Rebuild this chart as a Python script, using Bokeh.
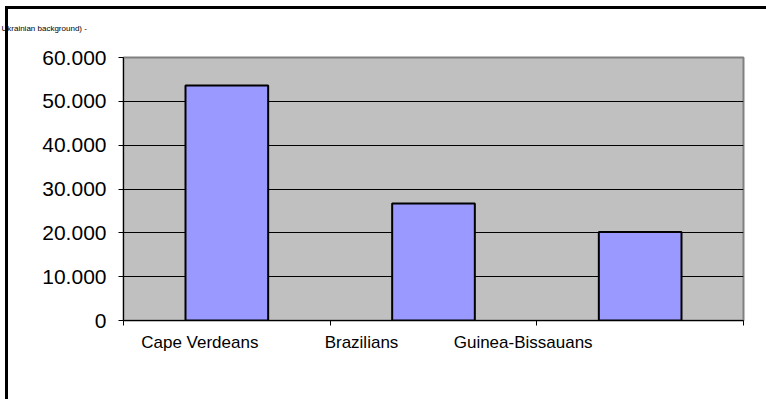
import numpy as np
from bokeh.plotting import figure
from bokeh.models import Range1d, FixedTicker, ColumnDataSource, InlineStyleSheet
from bokeh.embed import file_html
from bokeh.resources import INLINE

# ---- data ----
categories = ["Cape Verdeans", "Brazilians", "Guinea-Bissauans"]
values = [53600, 26700, 20200]
y_ticks = [0, 10000, 20000, 30000, 40000, 50000, 60000]
y_tick_labels = ["0", "10.000", "20.000", "30.000", "40.000", "50.000", "60.000"]
caption_fragment = "Ukrainian background) -"

# ---- layout (pixels, figure coordinates) ----
W, H = 766, 399
FL, FR, FT, FB = 123, 23, 57, 79
FRAME_W = W - FL - FR
label_shift_px = [-27, -72, -117]   # category labels sit left of the bars in the reference
FONT = "Liberation Sans"

n = len(categories)
ymax = y_ticks[-1]

border_css = InlineStyleSheet(css=(
    ":host { background: "
    "linear-gradient(black, black) 5px 6px / 3px 100% no-repeat fixed, "
    "linear-gradient(black, black) 5px 6px / 100% 3px no-repeat fixed, white; }"))

p = figure(width=W, height=H, output_backend="svg", toolbar_location=None,
           x_range=Range1d(0, n), y_range=Range1d(0, ymax),
           min_border_left=FL, min_border_right=FR, min_border_top=FT, min_border_bottom=FB,
           background_fill_color="#C0C0C0", border_fill_color=None,
           stylesheets=[border_css])
p.outline_line_color = "#808080"
p.outline_line_width = 2

src = ColumnDataSource(dict(x=np.arange(n) + 0.5, top=values, name=categories))
p.vbar(x="x", top="top", width=0.4, source=src, fill_color="#9999FF",
       line_color="black", line_width=2)

# y axis
p.yaxis.ticker = FixedTicker(ticks=y_ticks)
p.yaxis.major_label_overrides = {t: s for t, s in zip(y_ticks, y_tick_labels)}
p.yaxis.major_label_text_font = FONT
p.yaxis.major_label_text_font_size = "21px"
p.yaxis.major_label_text_color = "black"
p.yaxis.major_tick_in = 0
p.yaxis.major_tick_out = 5
p.yaxis.minor_tick_line_color = None
p.yaxis.axis_line_color = "black"
p.yaxis.major_label_standoff = 12

p.ygrid.ticker = FixedTicker(ticks=y_ticks)
p.ygrid.grid_line_color = "black"
p.ygrid.grid_line_width = 1
p.xgrid.visible = False

# x axis: labels at label positions, tick marks (minor) at category boundaries
label_pos = [round(i + 0.5 + s / FRAME_W * n, 4) for i, s in enumerate(label_shift_px)]
p.xaxis.ticker = FixedTicker(ticks=label_pos, minor_ticks=list(range(n + 1)))
p.xaxis.major_label_overrides = {pos: c for pos, c in zip(label_pos, categories)}
p.xaxis.major_tick_line_color = None
p.xaxis.minor_tick_line_color = "black"
p.xaxis.minor_tick_in = 0
p.xaxis.minor_tick_out = 5
p.xaxis.major_tick_in = 0
p.xaxis.major_tick_out = 5
p.xaxis.axis_line_color = "black"
p.xaxis.major_label_text_font = FONT
p.xaxis.major_label_text_font_size = "17px"
p.xaxis.major_label_text_color = "black"
p.xaxis.major_label_standoff = 7

# caption fragment above the chart (cut off in the reference, shrunk here)
p.title.text = caption_fragment
p.title.text_font = FONT
p.title.text_font_size = "8px"
p.title.text_font_style = "normal"
p.title.text_color = "black"
p.title.align = "left"
p.title.vertical_align = "top"
p.title.offset = -FL + 1
p.title.standoff = 45

open("out.html", "w").write(file_html(p, INLINE))
